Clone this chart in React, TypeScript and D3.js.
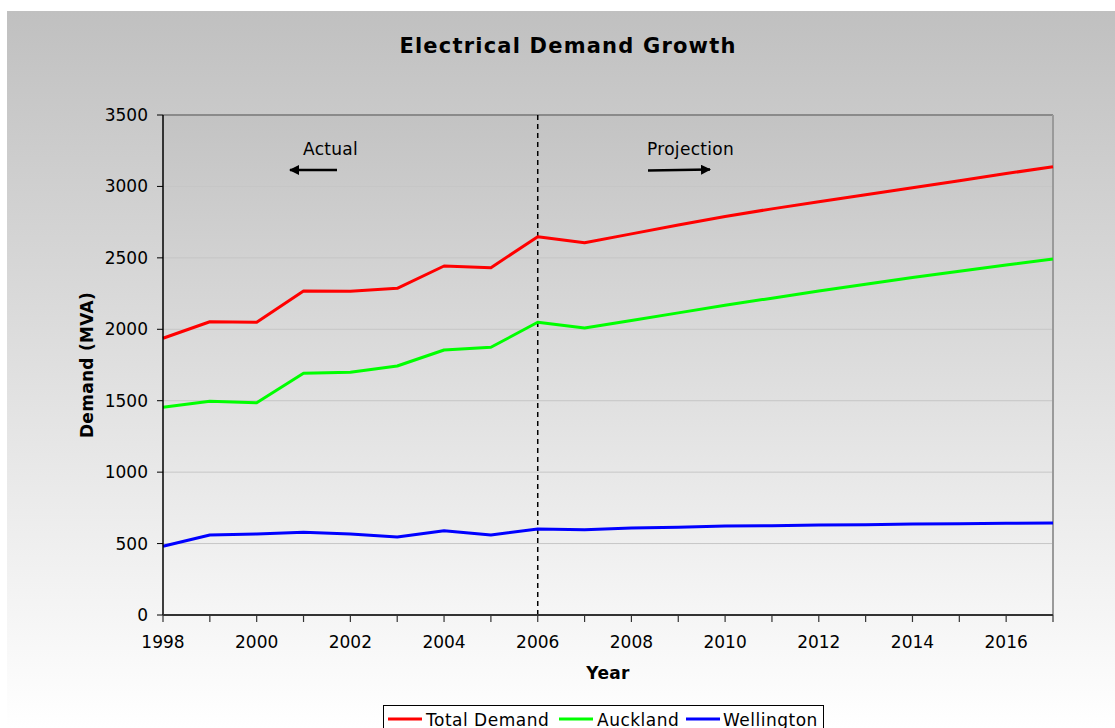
import React from "react";
import * as d3 from "d3";

const years = [1998,1999,2000,2001,2002,2003,2004,2005,2006,2007,2008,2009,2010,2011,2012,2013,2014,2015,2016,2017];
const totalDemand = [1937,2053,2049,2268,2266,2287,2443,2431,2648,2606,2668,2730,2790,2843,2893,2942,2990,3040,3090,3138];
const auckland = [1454,1496,1486,1692,1699,1743,1855,1874,2049,2009,2062,2115,2168,2218,2268,2316,2362,2407,2450,2492];
const wellington = [481,560,567,579,567,546,590,560,602,597,609,614,623,625,630,632,637,639,642,644];
const yTicks = [0,500,1000,1500,2000,2500,3000,3500];
const xLabelYears = [1998,2000,2002,2004,2006,2008,2010,2012,2014,2016];
const seriesNames = ["Total Demand","Auckland","Wellington"];
const seriesColors = ["#ff0000","#00ff00","#0000ff"];
const splitYear = 2006;

const W = 1115, H = 728;
const left = 163, right = 1053, top = 115, bottom = 615;
const FONT = "DejaVu Sans, Verdana, sans-serif";

export default function App() {
  const x = d3.scaleLinear().domain([1998, 2017]).range([left, right]);
  const y = d3.scaleLinear().domain([0, 3500]).range([bottom, top]);
  const line = d3.line<number>().x((_, i) => x(years[i])).y(d => y(d));
  const allSeries = [totalDemand, auckland, wellington];

  const legendItems = [
    { lx: 388, tx: 426 },
    { lx: 559, tx: 597 },
    { lx: 686, tx: 723 },
  ];

  return (
    <div style={{ position: "absolute", left: 0, top: 0 }}>
      <svg width={W} height={H} style={{ display: "block", fontFamily: FONT }}>
        <defs>
          <linearGradient id="bg" x1="0" y1="0" x2="0" y2="1">
            <stop offset="0" stopColor="#c0c0c0" />
            <stop offset="1" stopColor="#ffffff" />
          </linearGradient>
          <linearGradient id="plotbg" x1="0" y1="0" x2="0" y2="1">
            <stop offset="0" stopColor="#c3c3c3" />
            <stop offset="1" stopColor="#f6f6f6" />
          </linearGradient>
          <marker id="arrow" viewBox="0 0 10 10" refX="9" refY="5" markerWidth="4" markerHeight="4" orient="auto">
            <path d="M0,0 L10,5 L0,10 z" fill="#000" />
          </marker>
        </defs>
        <rect x={0} y={0} width={W} height={H} fill="#ffffff" />
        <rect x={7} y={11} width={W - 7} height={H - 11} fill="url(#bg)" />
        <rect x={left} y={top} width={right - left} height={bottom - top} fill="url(#plotbg)" />

        {/* gridlines */}
        {yTicks.filter(t => t > 0 && t < 3500).map(t => (
          <line key={t} x1={left} x2={right} y1={y(t)} y2={y(t)} stroke="#c6c6c6" strokeWidth={1} />
        ))}
        {/* top & right border */}
        <line x1={left} x2={right} y1={top} y2={top} stroke="#8a8a8a" strokeWidth={2} />
        <line x1={right} x2={right} y1={top} y2={bottom} stroke="#9a9a9a" strokeWidth={2} />

        {/* title */}
        <text x={568} y={53} textAnchor="middle" fontSize={21} fontWeight="bold" letterSpacing={1.2} fill="#000">Electrical Demand Growth</text>

        {/* dashed split line */}
        <line x1={x(splitYear)} x2={x(splitYear)} y1={top} y2={bottom} stroke="#000" strokeWidth={1.5} strokeDasharray="5,4" />

        {/* annotations */}
        <text x={303} y={155} fontSize={17} letterSpacing={0.3} fill="#000">Actual</text>
        <line x1={337} y1={170} x2={290} y2={170} stroke="#000" strokeWidth={2.5} markerEnd="url(#arrow)" />
        <text x={647} y={155} fontSize={17} letterSpacing={0.3} fill="#000">Projection</text>
        <line x1={648} y1={170.5} x2={710} y2={169.5} stroke="#000" strokeWidth={2.5} markerEnd="url(#arrow)" />

        {/* series */}
        {allSeries.map((s, i) => (
          <path key={i} d={line(s) || ""} fill="none" stroke={seriesColors[i]} strokeWidth={3} strokeLinejoin="round" />
        ))}

        {/* y axis */}
        <line x1={left} x2={left} y1={top} y2={bottom} stroke="#000" strokeWidth={1.5} />
        {yTicks.map(t => (
          <g key={t}>
            <line x1={left - 6} x2={left} y1={y(t)} y2={y(t)} stroke="#000" strokeWidth={1} />
            <text x={148} y={y(t) + 6} textAnchor="end" fontSize={17} fill="#000">{t}</text>
          </g>
        ))}
        {/* x axis */}
        <line x1={left} x2={right} y1={bottom} y2={bottom} stroke="#333" strokeWidth={2} />
        {years.map(yr => (
          <line key={yr} x1={x(yr)} x2={x(yr)} y1={bottom} y2={bottom + 7} stroke="#333" strokeWidth={1.2} />
        ))}
        {xLabelYears.map(yr => (
          <text key={yr} x={x(yr)} y={648} textAnchor="middle" fontSize={17} fill="#000">{yr}</text>
        ))}

        {/* axis titles */}
        <text x={(left + right) / 2} y={679} textAnchor="middle" fontSize={17} fontWeight="bold" letterSpacing={0.3} fill="#000">Year</text>
        <text transform={`translate(93, ${(top + bottom) / 2}) rotate(-90)`} textAnchor="middle" fontSize={17} fontWeight="bold" letterSpacing={0.3} fill="#000">Demand (MVA)</text>

        {/* legend */}
        <rect x={383.5} y={705.5} width={440} height={30} fill="#ffffff" stroke="#000" strokeWidth={1} />
        {seriesNames.map((n, i) => (
          <g key={n}>
            <line x1={legendItems[i].lx} x2={legendItems[i].lx + 34} y1={719} y2={719} stroke={seriesColors[i]} strokeWidth={3} />
            <text x={legendItems[i].tx} y={725.5} fontSize={17} letterSpacing={0.5} fill="#000">{n}</text>
          </g>
        ))}
      </svg>
    </div>
  );
}
